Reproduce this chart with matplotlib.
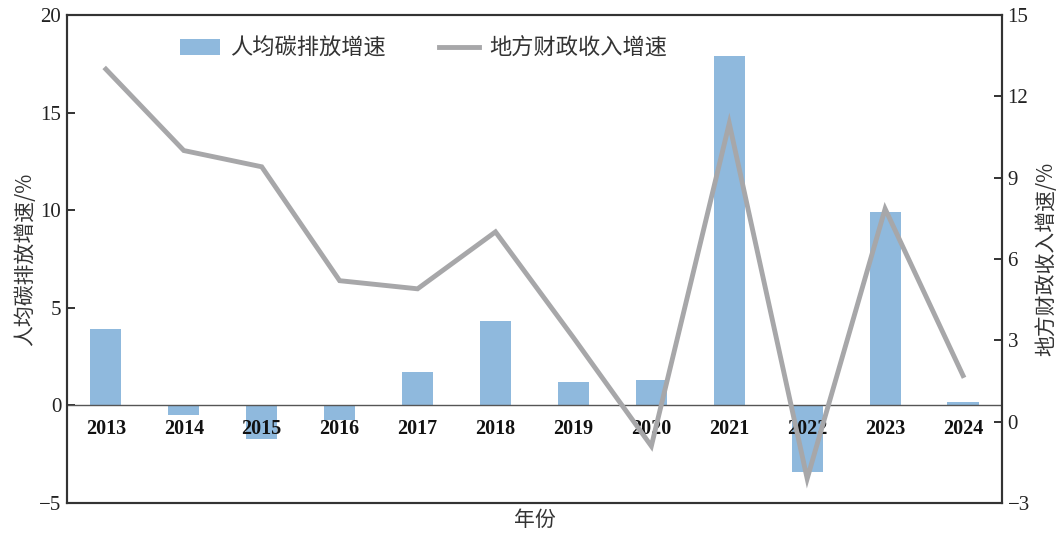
import matplotlib.pyplot as plt
from matplotlib.patches import Patch
from matplotlib.lines import Line2D

plt.rcParams['font.family'] = ['Noto Sans CJK SC', 'DejaVu Sans']

years = ['2013', '2014', '2015', '2016', '2017', '2018', '2019', '2020',
         '2021', '2022', '2023', '2024']
carbon_growth = [3.9, -0.5, -1.7, -0.75, 1.7, 4.3, 1.2, 1.3, 17.9, -3.4, 9.9, 0.2]
revenue_growth = [13.0, 10.0, 9.4, 5.2, 4.9, 7.0, 3.1, -0.9, 11.0, -2.1, 7.85, 1.7]

left_ticks = [-5, 0, 5, 10, 15, 20]
right_ticks = [-3, 0, 3, 6, 9, 12, 15]

bar_color = '#8fb9dd'
line_color = '#a7a7a9'
spine_color = '#333333'
serif = ['Liberation Serif', 'DejaVu Serif']

fig = plt.figure(figsize=(10.62, 5.34), dpi=100)
ax = fig.add_axes([0.063, 0.058, 0.8805, 0.914])
ax2 = ax.twinx()

x = list(range(len(years)))
ax.bar(x, carbon_growth, width=0.4, color=bar_color, zorder=2)
ax.axhline(0, color='#555555', lw=1.0, zorder=3)
ax2.plot(x, revenue_growth, color=line_color, lw=3.5, solid_joinstyle='miter', zorder=4)

ax.set_xlim(-0.5, len(years) - 0.5)
ax.set_ylim(-5, 20)
ax2.set_ylim(-3, 15)
ax.set_yticks(left_ticks)
ax2.set_yticks(right_ticks)
ax.set_yticklabels([str(t).replace('-', '\u2212') for t in left_ticks], family=serif, fontsize=15)
ax2.set_yticklabels([str(t).replace('-', '\u2212') for t in right_ticks], family=serif, fontsize=15)
ax.set_xticks([])

for a in (ax, ax2):
    a.tick_params(axis='y', direction='in', length=6, width=1.3, colors='#222222', pad=4)
    for s in a.spines.values():
        s.set_color(spine_color)
        s.set_linewidth(1.5)

# year labels sit just under the zero line
for i, y in enumerate(years):
    ax.text(i, -0.7, y, ha='center', va='top', fontsize=14.5, fontweight='bold',
            family=serif, color='#111111', zorder=5)

ax.set_ylabel('人均碳排放增速/%', fontsize=15, color='#333333', labelpad=2)
ax2.set_ylabel('地方财政收入增速/%', fontsize=15, color='#333333', labelpad=4)
ax.set_xlabel('年份', fontsize=15, color='#333333', labelpad=4)

handles = [Patch(facecolor=bar_color, edgecolor='none'),
           Line2D([0], [0], color=line_color, lw=3.5)]
ax2.legend(handles, ['人均碳排放增速', '地方财政收入增速'], loc='center left',
           bbox_to_anchor=(0.121, 0.932), ncol=2, frameon=False, fontsize=16,
           borderpad=0, borderaxespad=0,
           handlelength=1.8, handletextpad=0.45, columnspacing=2.4,
           labelcolor='#333333')

fig.savefig('out.png', dpi=100)
